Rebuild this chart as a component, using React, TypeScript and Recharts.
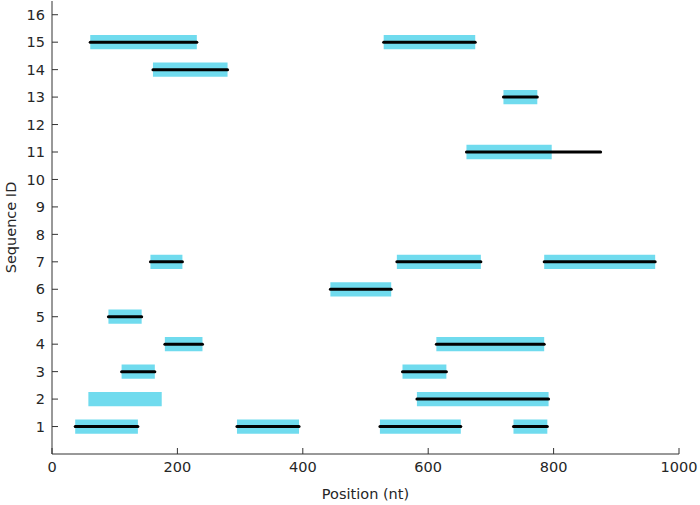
import React from 'react';
import { ComposedChart, XAxis, YAxis, ReferenceArea, ReferenceLine } from 'recharts';

// [sequence id, start nt, end nt]
const hitSegments: [number, number, number][] = [
  [15, 61, 231], [15, 529, 675],
  [14, 161, 280],
  [13, 720, 774],
  [11, 661, 797],
  [7, 157, 208], [7, 550, 684], [7, 785, 962],
  [6, 444, 541],
  [5, 90, 143],
  [4, 180, 240], [4, 613, 785],
  [3, 111, 164], [3, 559, 629],
  [2, 58, 175], [2, 582, 792],
  [1, 37, 137], [1, 295, 394], [1, 523, 652], [1, 736, 790],
];

const alignSegments: [number, number, number][] = [
  [15, 61, 231], [15, 529, 675],
  [14, 161, 280],
  [13, 720, 774],
  [11, 661, 875],
  [7, 157, 208], [7, 550, 684], [7, 785, 962],
  [6, 444, 541],
  [5, 90, 143],
  [4, 180, 240], [4, 613, 785],
  [3, 111, 164], [3, 559, 629],
  [2, 582, 792],
  [1, 37, 137], [1, 295, 394], [1, 523, 652], [1, 736, 790],
];

const xTicks = [0, 200, 400, 600, 800, 1000];
const yTicks = [1, 2, 3, 4, 5, 6, 7, 8, 9, 10, 11, 12, 13, 14, 15, 16];

const FONT = 'DejaVu Sans';
const FS = 14.5;
const TEXT = '#262626';
const AXIS = '#333';
const CYAN = '#70dbee';
const HALF = 0.26;

const YLabel = (props: any) => {
  const vb = props.viewBox || {};
  const x = (vb.x ?? 0) + 11;
  const y = (vb.y ?? 0) + (vb.height ?? 0) / 2;
  return (
    <text
      x={x}
      y={y}
      transform={`rotate(-90 ${x} ${y})`}
      textAnchor="middle"
      dominantBaseline="central"
      fontSize={FS}
      fontFamily={FONT}
      fill={TEXT}
    >
      Sequence ID
    </text>
  );
};

export default function App() {
  return (
    <div style={{ position: 'fixed', left: 0, top: 0, background: '#fff' }}>
      <ComposedChart
        width={700}
        height={505}
        margin={{ top: 1, right: 21, bottom: 0, left: 0 }}
        style={{ fontFamily: FONT }}
      >
        <XAxis
          type="number"
          dataKey="x"
          domain={[0, 1000]}
          ticks={xTicks}
          allowDataOverflow
          height={51}
          tickSize={-6}
          tickMargin={14}
          stroke={AXIS}
          tick={{ fontSize: FS, fill: TEXT, fontFamily: FONT }}
          label={{ value: 'Position (nt)', position: 'insideBottom', offset: 6, fontSize: FS, fill: TEXT, fontFamily: FONT }}
        />
        <YAxis
          type="number"
          dataKey="y"
          domain={[0, 16.5]}
          ticks={yTicks}
          allowDataOverflow
          width={52}
          tickSize={-6}
          tickMargin={13}
          stroke={AXIS}
          tick={{ fontSize: FS, fill: TEXT, fontFamily: FONT }}
          label={<YLabel />}
        />
        {hitSegments.map(([row, s, e], i) => (
          <ReferenceArea
            key={`h${i}`}
            x1={s}
            x2={e}
            y1={row - HALF}
            y2={row + HALF}
            fill={CYAN}
            fillOpacity={1}
            stroke="none"
          />
        ))}
        {alignSegments.map(([row, s, e], i) => (
          <ReferenceLine
            key={`a${i}`}
            segment={[{ x: s, y: row }, { x: e, y: row }]}
            stroke="#000"
            strokeWidth={3}
            strokeLinecap="round"
          />
        ))}
      </ComposedChart>
    </div>
  );
}
